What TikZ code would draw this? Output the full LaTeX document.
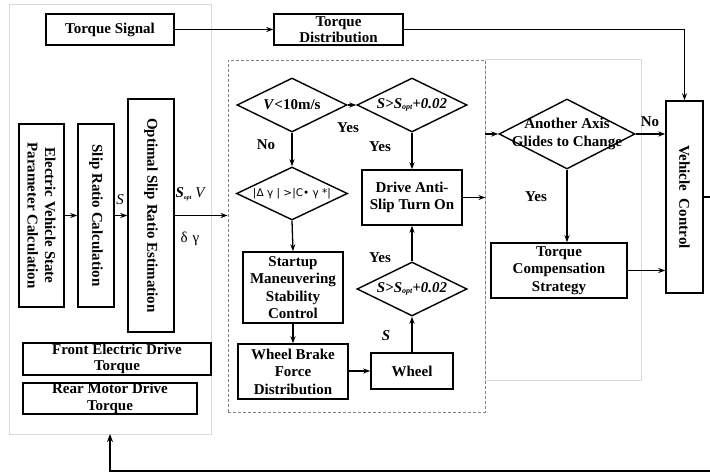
\documentclass[tikz,border=0pt]{standalone}
\usepackage{fontspec}
\setmainfont{Liberation Serif}
\newfontfamily\djv{DejaVu Sans}
\usetikzlibrary{shapes.geometric,arrows.meta,calc}
\newcommand{\sopt}{\textit{S}\raisebox{-1.5pt}{\fontsize{8}{8}\selectfont\itshape opt}}
\begin{document}
\begin{tikzpicture}[x=1pt,y=-1pt,
  every node/.style={font=\fontsize{15}{17.5}\selectfont\bfseries},
  box/.style={draw, line width=1.4pt, inner sep=0pt, align=center},
  dia/.style={draw, diamond, line width=1.4pt, inner sep=0pt},
  arr/.style={line width=1.3pt, -{Stealth[length=7pt,width=5pt]}},
  panel/.style={draw=black!15, line width=1pt, inner sep=0pt},
  dpanel/.style={draw=black!50, line width=0.8pt, dash pattern=on 3pt off 2pt, inner sep=0pt},
  vtext/.style={rotate=-90, align=center},
  dtext/.style={align=center},
  lbl/.style={inner sep=0pt}
]
\useasboundingbox (0,0) rectangle (710,473);
\fill[white] (0,0) rectangle (710,473);

% panels
\node[panel, minimum width=202, minimum height=429] (lp) at (110,219.5) {};
\node[panel, minimum width=156, minimum height=320] (rp) at (563,220) {};
\node[dpanel, minimum width=257, minimum height=352] (dbox) at (356.5,236) {};

% top row
\node[box, minimum width=128, minimum height=31] (ts) at (110,29.5) {Torque Signal};
\node[box, minimum width=129, minimum height=31] (td) at (338.5,29.5) {Torque\\[-1pt]Distribution};

% left panel boxes
\node[box, minimum width=45, minimum height=183,
  label={[vtext]center:{Electric Vehicle State\\Parameter Calculation}}] (ev) at (41.5,215.5) {};
\node[box, minimum width=36, minimum height=183,
  label={[vtext]center:{Slip Ratio Calculation}}] (sr) at (96,215.5) {};
\node[box, minimum width=46, minimum height=233,
  label={[vtext]center:{Optimal Slip Ratio Estimation}}] (opt) at (151,215.5) {};
\node[box, minimum width=188, minimum height=32] (fe) at (117,359) {Front Electric Drive\\[-1pt]Torque};
\node[box, minimum width=174, minimum height=31] (rm) at (110,398.5) {Rear Motor Drive\\[-1pt]Torque};

% dashed region
\node[dia, minimum width=110, minimum height=54,
  label={[dtext]center:{\textit{V}<10m/s}}] (dv) at (292,105) {};
\node[dia, minimum width=110, minimum height=54,
  label={[dtext]center:{\itshape S>\sopt+0.02}}] (ds1) at (412,105) {};
\node[dia, minimum width=111, minimum height=53,
  label={[dtext]center:{\djv\mdseries\fontsize{10.5}{12}\selectfont |Δ γ | >|C• γ *|}}] (dg) at (292,193.5) {};
\node[box, minimum width=100, minimum height=55] (drv) at (412,197.5) {Drive Anti-\\Slip Turn On};
\node[box, minimum width=100, minimum height=71] (su) at (293,287.5) {Startup\\Maneuvering\\Stability\\Control};
\node[box, minimum width=110, minimum height=55] (wb) at (293,371.5) {Wheel Brake\\Force\\Distribution};
\node[box, minimum width=82, minimum height=36] (wh) at (412,371) {Wheel};
\node[dia, minimum width=110, minimum height=54,
  label={[dtext]center:{\itshape S>\sopt+0.02}}] (ds2) at (412,289) {};

% right region
\node[dia, minimum width=136, minimum height=70,
  label={[dtext]center:{Another Axis\\Glides to Change}}] (aa) at (567,134) {};
\node[box, minimum width=136, minimum height=55] (tc) at (559,270.5) {Torque\\Compensation\\Strategy};
\node[box, minimum width=37, minimum height=192,
  label={[vtext]center:{Vehicle\ \ Control}}] (vc) at (684.5,197) {};

% labels
\node[lbl] at (120,200) {\mdseries\itshape S};
\node[lbl] at (190,194) {\textit{S}\raisebox{-1.5pt}{\fontsize{6}{6}\selectfont\itshape opt} \mdseries\itshape V};
\node[lbl] at (190,239) {\mdseries δ\,\,γ};
\node[lbl] at (348,128) {Yes};
\node[lbl] at (266,145) {No};
\node[lbl] at (380,147) {Yes};
\node[lbl] at (380,258) {Yes};
\node[lbl] at (386,336) {\itshape S};
\node[lbl] at (650,122) {No};
\node[lbl] at (536,197) {Yes};

% connectors
\draw[arr] (ts.east) -- (td.west);
\draw[arr] (td.east) -| (vc.north);
\draw[arr] (ev.east) -- (sr.west);
\draw[arr] (sr.east) -- (opt.west);
\draw[arr] (opt.east) -- (dbox.west |- opt.east);
\draw[arr] (dv.east) -- (ds1.west);
\draw[arr] (dv.south) -- (dg.north);
\draw[arr] (dg.south) -- (su.north);
\draw[arr] (su.south) -- (wb.north);
\draw[arr] (wb.east |- wh.west) -- (wh.west);
\draw[arr] (wh.north) -- (ds2.south);
\draw[arr] (ds2.north) -- (drv.south);
\draw[arr] (ds1.south) -- (drv.north);
\draw[arr] (drv.east) -- (drv.east -| dbox.east);
\draw[arr] (dbox.east |- aa.west) -- (aa.west);
\draw[arr] (aa.east) -- (aa.east -| vc.west);
\draw[arr] (aa.south) -- (aa.south |- tc.north);
\draw[arr] (tc.east) -- (tc.east -| vc.west);
\coordinate (fbr) at (712,471);
\coordinate (fbend) at (110,434);
\draw[line width=1.8pt, -{Stealth[length=8pt,width=6pt]}] (vc.east) -| (fbr) -| (fbend);
\end{tikzpicture}
\end{document}
